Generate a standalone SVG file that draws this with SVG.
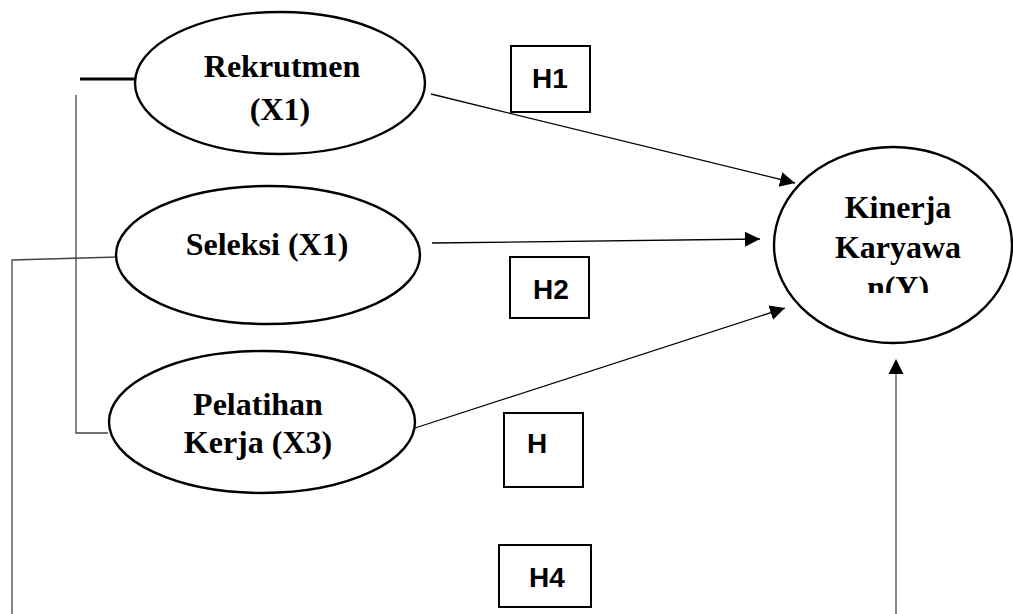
<svg xmlns="http://www.w3.org/2000/svg" width="1013" height="614" viewBox="0 0 1013 614">
<style>
.node ellipse{fill:#fff;stroke:#000;stroke-width:2.4}
.lbl{font-family:"Liberation Serif","Times New Roman",serif;font-weight:bold;font-size:32px;fill:#000;text-anchor:middle}
.hbox rect{fill:#fff;stroke:#000;stroke-width:2}
.htxt{font-family:"Liberation Sans",Arial,sans-serif;font-weight:bold;font-size:28px;fill:#000;text-anchor:middle}
.arr{stroke:#000;stroke-width:1.3;fill:none;marker-end:url(#ah)}
.thin{stroke:#444;stroke-width:1.3;fill:none}
</style>
<defs>
<marker id="ah" markerUnits="userSpaceOnUse" markerWidth="16" markerHeight="16" refX="15" refY="7.5" orient="auto">
<path d="M0,0 L15,7.5 L0,15 z" fill="#000"/>
</marker>
<clipPath id="kclip"><rect x="760" y="140" width="260" height="153"/></clipPath>
</defs>
<rect width="1013" height="614" fill="#fff"/>
<g id="connectors">
<line x1="80" y1="79" x2="138" y2="79" stroke="#000" stroke-width="3"/>
<polyline class="thin" points="76,95 76,433 108,433"/>
<polyline class="thin" points="12,614 12,260 118,257"/>
<line class="arr" x1="431" y1="94" x2="795" y2="183"/>
<line class="arr" x1="432" y1="243" x2="760" y2="239"/>
<line class="arr" x1="415" y1="428" x2="785" y2="308"/>
<line class="thin" x1="896" y1="614" x2="896" y2="374"/>
<path d="M896,359 L903.5,374 L888.5,374 z" fill="#000"/>
</g>
<g id="rekrutmen" class="node">
<ellipse cx="280" cy="83" rx="145" ry="71"/>
<text class="lbl" x="282" y="77">Rekrutmen</text>
<text class="lbl" x="280" y="120">(X1)</text>
</g>
<g id="seleksi" class="node">
<ellipse cx="268" cy="255" rx="152" ry="69"/>
<text class="lbl" x="267" y="255">Seleksi (X1)</text>
</g>
<g id="pelatihan" class="node">
<ellipse cx="262" cy="422" rx="153" ry="71"/>
<text class="lbl" x="258" y="415">Pelatihan</text>
<text class="lbl" x="258" y="453">Kerja (X3)</text>
</g>
<g id="kinerja" class="node">
<ellipse cx="893" cy="245" rx="119" ry="98"/>
<text class="lbl" x="898" y="218">Kinerja</text>
<text class="lbl" x="898" y="258">Karyawa</text>
<text class="lbl" x="898" y="298" clip-path="url(#kclip)">n(Y)</text>
</g>
<g id="h1" class="hbox">
<rect x="511" y="46" width="79" height="66"/>
<text class="htxt" x="550" y="88">H1</text>
</g>
<g id="h2" class="hbox">
<rect x="510" y="257" width="79" height="61"/>
<text class="htxt" x="551" y="299">H2</text>
</g>
<g id="h3" class="hbox">
<rect x="504" y="413" width="79" height="74"/>
<text class="htxt" x="537" y="453">H</text>
</g>
<g id="h4" class="hbox">
<rect x="499" y="545" width="92" height="62"/>
<text class="htxt" x="547" y="587">H4</text>
</g>
</svg>
